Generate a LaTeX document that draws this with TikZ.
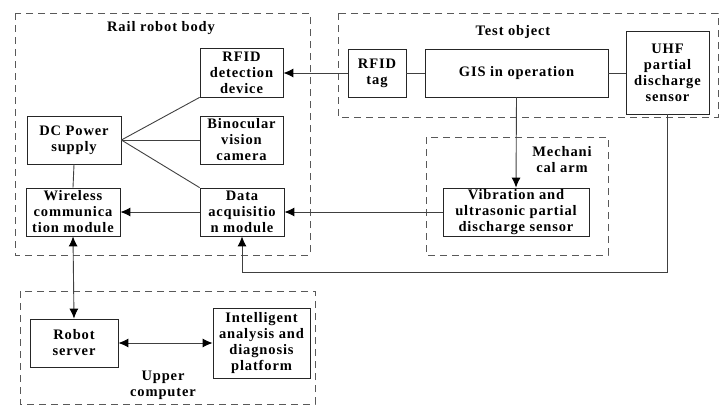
\documentclass[tikz,border=0pt]{standalone}
\usepackage{fontspec}
\setmainfont{Liberation Serif}[LetterSpace=6]
\usetikzlibrary{arrows.meta,positioning}

\begin{document}
\begin{tikzpicture}[
			x = 1pt, y = -1pt,
			every node/.style = {font=\fontsize{14.5}{16}\selectfont\bfseries, align=center, inner sep=1pt},
			blk/.style = {draw=black!85, line width=0.8pt, minimum width=#1},
			frame/.style = {draw=black!65, line width=0.9pt, dash pattern=on 7pt off 5pt},
			link/.style = {draw=black!75, line width=0.9pt},
			arr/.style = {link, -{Latex[length=10pt,width=9pt,color=black]}},
			darr/.style = {link, {Latex[length=10pt,width=9pt,color=black]}-{Latex[length=10pt,width=9pt,color=black]}}
			]

			\useasboundingbox (0,0) rectangle (723,405);

			% dashed groups
			\draw[frame] (15,13) rectangle (310,255);
			\draw[frame] (338,13) rectangle (718,117);
			\draw[frame] (426,137) rectangle (608,255);
			\draw[frame] (20,291) rectangle (315,404);

			\node (bodytitle) at (161,28) {Rail robot body};
			\node (testtitle) at (513,32) {Test object};
			\node (armtitle) at (562,160) {Mechani\\cal arm};
			\node (uppertitle) at (163,385) {Upper\\computer};

			% rail robot body
			\node[blk=83pt, minimum height=49pt] (rfid) at (241.5,72.5) {RFID\\detection\\device};
			\node[blk=94pt, minimum height=48pt] (dc) at (74,140) {DC Power\\supply};
			\node[blk=83pt, minimum height=48pt] (bino) at (241.5,140) {Binocular\\vision\\camera};
			\node[blk=94pt, minimum height=48pt] (wire) at (73,212) {Wireless\\communica\\tion module};
			\node[blk=84pt, minimum height=48pt] (daq) at (242,212) {Data\\acquisitio\\n module};

			% test object
			\node[blk=58pt, minimum height=48pt] (tag) at (377,73) {RFID\\tag};
			\node[blk=183pt, minimum height=48pt] (gis) at (516.5,73) {GIS in operation};
			\node[blk=83pt, minimum height=83pt] (uhf) at (667.5,72.5) {UHF\\partial\\discharge\\sensor};

			% mechanical arm
			\node[blk=146pt, minimum height=48pt] (vib) at (516,212) {Vibration and\\ultrasonic partial\\discharge sensor};

			% upper computer
			\node[blk=88pt, minimum height=48pt] (server) at (74,343) {Robot\\server};
			\node[blk=97pt, minimum height=70pt] (intel) at (261.5,343) {Intelligent\\analysis and\\diagnosis\\platform};

			\coordinate (uhfturn) at (uhf.south |- 0,272);

			\draw[arr] (tag.west) -- (rfid.east |- tag.west);
			\draw[link] (tag.east) -- (gis.west);
			\draw[link] (gis.east) -- (uhf.west |- gis.east);
			\draw[link] (dc.east) -- (rfid.south west);
			\draw[link] (dc.east) -- (bino.west);
			\draw[link] (dc.east) -- (daq.north west);
			\draw[link] (dc.south) -- (wire.north);
			\draw[arr] (daq.west) -- (wire.east);
			\draw[arr] (vib.west) -- (daq.east);
			\draw[arr] (gis.south) -- (vib.north);
			\draw[arr] (uhf.south) -- (uhfturn) -| (daq.south);
			\draw[darr] (wire.south) -- (server.north);
			\draw[darr] (server.east) -- (intel.west);

		\end{tikzpicture}
\end{document}
